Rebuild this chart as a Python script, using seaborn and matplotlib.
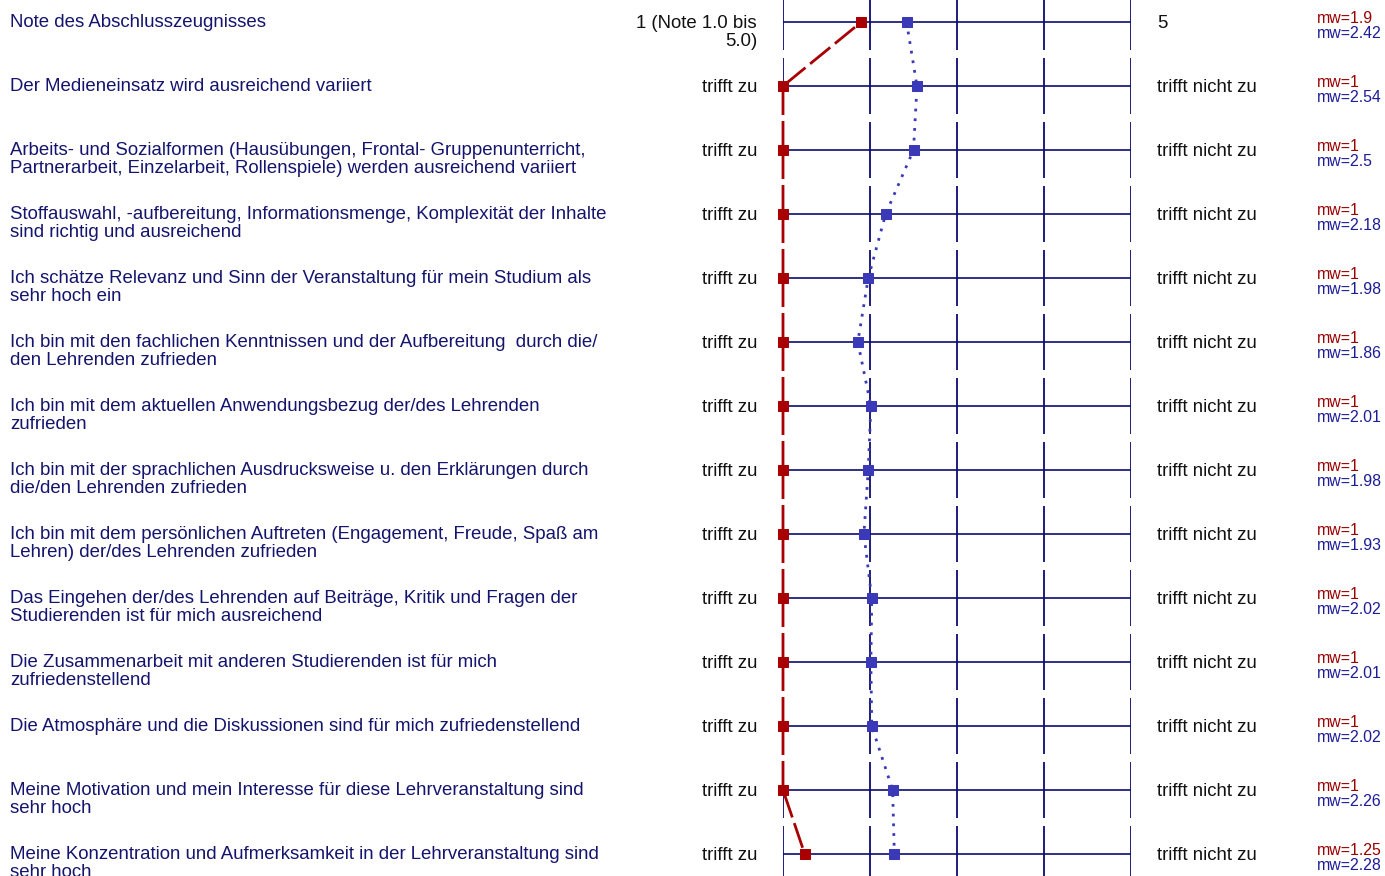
import numpy as np
import pandas as pd
import seaborn as sns
import matplotlib.pyplot as plt
from matplotlib.transforms import blended_transform_factory

# questions shown on the left, one per row
questions = [
    'Note des Abschlusszeugnisses',
    'Der Medieneinsatz wird ausreichend variiert',
    'Arbeits- und Sozialformen (Hausübungen, Frontal- Gruppenunterricht,\nPartnerarbeit, Einzelarbeit, Rollenspiele) werden ausreichend variiert',
    'Stoffauswahl, -aufbereitung, Informationsmenge, Komplexität der Inhalte\nsind richtig und ausreichend',
    'Ich schätze Relevanz und Sinn der Veranstaltung für mein Studium als\nsehr hoch ein',
    'Ich bin mit den fachlichen Kenntnissen und der Aufbereitung  durch die/\nden Lehrenden zufrieden',
    'Ich bin mit dem aktuellen Anwendungsbezug der/des Lehrenden\nzufrieden',
    'Ich bin mit der sprachlichen Ausdrucksweise u. den Erklärungen durch\ndie/den Lehrenden zufrieden',
    'Ich bin mit dem persönlichen Auftreten (Engagement, Freude, Spaß am\nLehren) der/des Lehrenden zufrieden',
    'Das Eingehen der/des Lehrenden auf Beiträge, Kritik und Fragen der\nStudierenden ist für mich ausreichend',
    'Die Zusammenarbeit mit anderen Studierenden ist für mich\nzufriedenstellend',
    'Die Atmosphäre und die Diskussionen sind für mich zufriedenstellend',
    'Meine Motivation und mein Interesse für diese Lehrveranstaltung sind\nsehr hoch',
    'Meine Konzentration und Aufmerksamkeit in der Lehrveranstaltung sind\nsehr hoch',
]
left_labels = ['1 (Note 1.0 bis\n5.0)'] + ['trifft zu'] * 13
right_labels = ['5'] + ['trifft nicht zu'] * 13

# mean values (mw) of the two profiles
mw_red = [1.9, 1, 1, 1, 1, 1, 1, 1, 1, 1, 1, 1, 1, 1.25]
mw_blue = [2.42, 2.54, 2.5, 2.18, 1.98, 1.86, 2.01, 1.98, 1.93, 2.02, 2.01, 2.02, 2.26, 2.28]

rows = np.arange(len(questions))
scale = [1, 2, 3, 4, 5]

sns.set_style('white')
plt.rcParams['font.family'] = ['Liberation Sans', 'DejaVu Sans']

fig = plt.figure(figsize=(13.85, 8.76), dpi=100)
W, H = 1385, 876
ax = fig.add_axes([783 / W, 0, (1131 - 783) / W, 1])
ax.axis('off')

grid_col = '#0c0c72'
ax.hlines(rows, 1, 5, color=grid_col, lw=1.2, zorder=1, clip_on=False)
for r in rows:
    ax.vlines(scale, r - 0.4375, r + 0.4375, color=grid_col, lw=1.3, zorder=1)

# dash pattern for the red profile: gaps land on the markers and halfway between rows
lw_red = 2.0
px = 100 / 72 * lw_red          # one dash unit in pixels
first_len = np.hypot((mw_red[0] - mw_red[1]) * 87, 64)
offset = ((29 - first_len) % 32) / px
red_dash = (offset, (26 / px, 6 / px))

df = pd.DataFrame({'row': rows, 'red': mw_red, 'blue': mw_blue})
sns.lineplot(data=df, x='blue', y='row', orient='y', sort=False, estimator=None,
             color='#3a3ab8', lw=2, linestyle=(0, (1, 2.5)), marker='s', ms=7,
             mec='#3a3ab8', ax=ax, zorder=3, clip_on=False)
sns.lineplot(data=df, x='red', y='row', orient='y', sort=False, estimator=None,
             color='#a80000', lw=lw_red, linestyle=red_dash, marker='s', ms=7,
             mec='#a80000', ax=ax, zorder=4, clip_on=False)
ax.set_xlim(1, 5)
ax.set_ylim((H - 22) / 64, -22 / 64)

tr = blended_transform_factory(fig.transFigure, ax.transData)
fs = 13.4
for r in rows:
    ax.text(10 / W, r - 0.12, questions[r], transform=tr, ha='left', va='top',
            fontsize=fs, color='#14146e', linespacing=1.05, clip_on=False)
    ax.text(757 / W, r - 0.11, left_labels[r], transform=tr, ha='right', va='top',
            fontsize=fs, color='#111111', linespacing=1.05, clip_on=False)
    ax.text(1157 / W, r - 0.11, right_labels[r], transform=tr, ha='left', va='top',
            fontsize=fs, color='#111111', clip_on=False)
    ax.text(1317 / W, r - 0.17, 'mw=%g' % mw_red[r], transform=tr, ha='left', va='top',
            fontsize=11.4, color='#990000', clip_on=False)
    ax.text(1317 / W, r + 0.06, 'mw=%g' % mw_blue[r], transform=tr, ha='left', va='top',
            fontsize=11.4, color='#1c1c99', clip_on=False)

fig.savefig('out.png', dpi=100)
